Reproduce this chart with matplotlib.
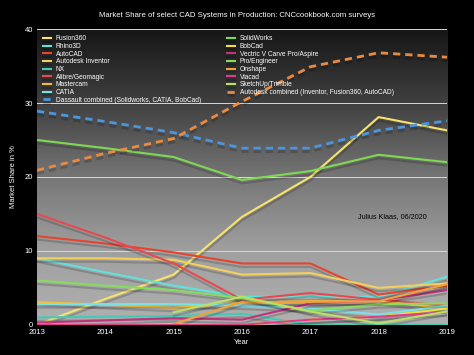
import numpy as np
import matplotlib
matplotlib.use("Agg")
import matplotlib.pyplot as plt
import matplotlib.patheffects as pe
from matplotlib.colors import LinearSegmentedColormap

plt.rcParams['font.family'] = ['Liberation Sans', 'DejaVu Sans']

# survey years
years = [2013, 2014, 2015, 2016, 2017, 2018, 2019]
nan = np.nan

# market share in %
fusion360 = [0.0, 3.5, 6.8, 14.6, 20.0, 28.1, 26.3]
rhino3d = [9.0, 7.1, 5.3, 3.8, 3.8, 3.8, 6.5]
autocad = [12.0, 11.0, 9.8, 8.3, 8.3, 4.1, 5.3]
inventor = [9.0, 9.0, 8.8, 6.8, 7.0, 5.0, 5.6]
nx = [1.0, 1.1, 1.2, 1.5, 0.0, 0.0, 0.0]
alibre = [15.0, 11.8, 8.3, 3.4, 4.3, 3.4, 2.6]
mastercam = [3.1, 2.7, 2.3, 3.0, 3.2, 3.2, 2.2]
catia = [2.8, 2.8, 2.8, 2.6, 2.2, 1.4, 2.6]
dassault = [28.9, 27.5, 26.0, 23.9, 23.9, 26.3, 27.6]
solidworks = [25.0, 23.9, 22.7, 19.6, 20.8, 23.0, 22.0]
bobcad = [0.0, 0.0, 0.1, 0.0, 0.7, 1.1, 2.2]
vectric = [0.3, 0.6, 0.9, 0.7, 2.9, 3.3, 4.7]
proe = [6.0, 5.3, 4.7, 3.6, 1.9, 2.8, 2.9]
onshape = [nan, nan, 0.1, 3.1, 3.1, 3.2, 5.5]
viacad = [0.0, 0.0, 0.0, 0.0, 0.7, 1.1, 1.7]
sketchup = [nan, nan, 1.7, 3.8, 1.8, 0.2, 1.8]
autodesk = [20.9, 23.2, 25.2, 30.2, 34.9, 36.8, 36.2]

series = [
    ("Fusion360", fusion360, "#f7e36a", "-"),
    ("Rhino3D", rhino3d, "#62e0dc", "-"),
    ("AutoCAD", autocad, "#e6442e", "-"),
    ("Autodesk Inventor", inventor, "#f3d05a", "-"),
    ("NX", nx, "#46c9b4", "-"),
    ("Alibre/Geomagic", alibre, "#e8484f", "-"),
    ("Mastercam", mastercam, "#f2bd3c", "-"),
    ("CATIA", catia, "#78e3e6", "-"),
    ("Dassault combined (Solidworks, CATIA, BobCad)", dassault, "#4a95dc", "--"),
    ("SolidWorks", solidworks, "#7fd852", "-"),
    ("BobCad", bobcad, "#ecde3e", "-"),
    ("Vectric V Carve Pro/Aspire", vectric, "#c23278", "-"),
    ("Pro/Engineer", proe, "#86dc5c", "-"),
    ("Onshape", onshape, "#f0a23a", "-"),
    ("Viacad", viacad, "#e03a8a", "-"),
    ("SketchUp/Trimble", sketchup, "#b8e062", "-"),
    ("Autodesk combined (Inventor, Fusion360, AutoCAD)", autodesk, "#ea8a40", "--"),
]

fig = plt.figure(figsize=(4.74, 3.55), dpi=100, facecolor="black")
ax = fig.add_axes([0.078, 0.085, 0.865, 0.833])
ax.set_facecolor("black")

# grey gradient behind the plot
cmap = LinearSegmentedColormap.from_list(
    "bg", [(0.0, "#b0b0b0"), (0.25, "#a0a0a0"), (0.5, "#767676"),
           (0.75, "#404040"), (1.0, "#161616")])
grad = np.linspace(0, 1, 256).reshape(-1, 1)
ax.imshow(grad, extent=[2013, 2019, 0, 40], origin="lower", aspect="auto",
          cmap=cmap, zorder=0)

for yv in [10, 20, 30, 40]:
    ax.axhline(yv, color="#d8d8d8", lw=0.7, zorder=1)

shadow = [pe.SimpleLineShadow(offset=(0, -2.5), shadow_color="black", alpha=0.18),
          pe.Normal()]
for name, vals, col, ls in series:
    if ls == "--":
        ax.plot(years, vals, ls, color=col, lw=2.0, dashes=(2.6, 1.8),
                label=name, zorder=3, path_effects=shadow)
    else:
        ax.plot(years, vals, ls, color=col, lw=1.5, label=name, zorder=2,
                path_effects=shadow)

ax.set_xlim(2013, 2019)
ax.set_ylim(0, 40)
ax.set_xticks(years)
ax.set_yticks([0, 10, 20, 30, 40])
ax.tick_params(colors="white", labelsize=5.5, length=0, pad=3)
for s in ax.spines.values():
    s.set_visible(False)

ax.set_xlabel("Year", color="white", fontsize=5.5, labelpad=2)
ax.set_ylabel("Market Share in %", color="white", fontsize=5.5, labelpad=5)
fig.text(0.5, 0.955, "Market Share of select CAD Systems in Production: CNCcookbook.com surveys",
         color="white", fontsize=5.6, ha="center", va="center")
ax.text(2017.7, 14.6, "Julius Klaas, 06/2020", color="black", fontsize=5.2,
        va="center", zorder=4)

leg = ax.legend(ncol=2, loc="upper left", bbox_to_anchor=(0.0, 1.0),
                frameon=False, fontsize=4.8, labelcolor="white",
                handlelength=1.1, handletextpad=0.75, labelspacing=0.1,
                columnspacing=4.0, borderaxespad=0.55)

fig.savefig("out.png", dpi=100, facecolor="black")
